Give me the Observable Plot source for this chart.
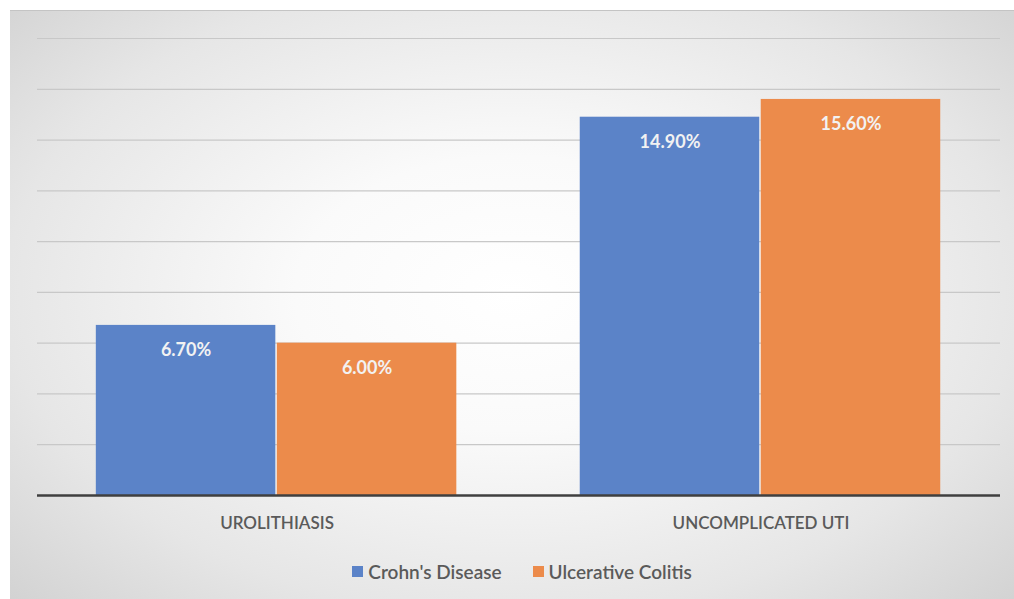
<!DOCTYPE html>
<html>
<head>
<meta charset="utf-8">
<script src="https://cdn.jsdelivr.net/npm/d3@7"></script>
<script src="https://cdn.jsdelivr.net/npm/@observablehq/plot@0.6"></script>
<style>
  html, body { margin: 0; padding: 0; background: #ffffff; }
  #panel {
    position: absolute; left: 10px; top: 10px; width: 1004px; height: 589px;
    background: radial-gradient(ellipse 72% 78% at 50% 48%, #ffffff 0%, #fafafa 30%, #e6e6e6 70%, #d0d0d0 100%);
    border-top: 1px solid #c4c4c4; box-sizing: border-box;
    font-family: Lato, "Open Sans", sans-serif;
  }
  .layer { position: absolute; left: 0; top: -1px; }
  #legend { position: absolute; left: 10px; width: 1004px; top: 549px; display: flex; justify-content: center; gap: 31px; }
  .item { display: flex; align-items: center; font-size: 19px; color: #5a5a5a; font-weight: 600; }
  .sw { width: 11px; height: 11px; margin-right: 5px; display: inline-block; }
</style>
</head>
<body>
<div id="panel"><div id="grid" class="layer"></div><div id="chart" class="layer"></div><div id="base" class="layer"></div><div id="legend"></div></div>
<script>
const categories = ["Urolithiasis", "Uncomplicated UTI"];
const series = ["Crohn's Disease", "Ulcerative Colitis"];
const crohnsValues = [6.7, 14.9];
const ucValues = [6.0, 15.6];
const gridTicks = [2, 4, 6, 8, 10, 12, 14, 16, 18];
const colors = ["#5b83c8", "#ec8b4b"];

const data = [];
categories.forEach((c, i) => {
  data.push({category: c, series: series[0], value: crohnsValues[i]});
  data.push({category: c, series: series[1], value: ucValues[i]});
});

const frame = {
  width: 1004,
  height: 530,
  marginLeft: 27,
  marginRight: 14,
  marginTop: 28,
  marginBottom: 45,
  style: {background: "transparent", fontFamily: "Lato, 'Open Sans', sans-serif"}
};

// Gridlines (behind bars), spanning the full plot width
const gridPlot = Plot.plot({
  ...frame,
  y: {domain: [0, 18], axis: null},
  marks: [Plot.ruleY(gridTicks, {stroke: "#c8c8c8", strokeWidth: 1.2})]
});
document.getElementById("grid").appendChild(gridPlot);

// Bars, value labels and category axis
const plot = Plot.plot({
  ...frame,
  fx: {domain: categories, paddingInner: 0.25, paddingOuter: 0.12, round: false, label: null},
  x: {domain: series, padding: 0, axis: null},
  y: {domain: [0, 18], axis: null},
  color: {domain: series, range: colors},
  marks: [
    Plot.barY(data, {fx: "category", x: "series", y: "value", fill: "series", insetLeft: 0.75, insetRight: 0.75}),
    Plot.text(data, {fx: "category", x: "series", y: "value", text: d => d.value.toFixed(2) + "%", dy: 25, fill: "#f2f2f2", fontWeight: "bold", fontSize: 18}),
    Plot.axisFx({anchor: "bottom", tickSize: 0, tickPadding: 21, fontSize: 17, fill: "#5a5a5a", fontWeight: 600, label: null, tickFormat: d => d.toUpperCase()})
  ]
});
document.getElementById("chart").appendChild(plot);

// Baseline on top
const basePlot = Plot.plot({
  ...frame,
  y: {domain: [0, 18], axis: null},
  marks: [Plot.ruleY([0], {stroke: "#3f3f3f", strokeWidth: 2.5})]
});
document.getElementById("base").appendChild(basePlot);

const legend = document.getElementById("legend");
series.forEach((s, i) => {
  const item = document.createElement("div");
  item.className = "item";
  const sw = document.createElement("span");
  sw.className = "sw";
  sw.style.background = colors[i];
  item.appendChild(sw);
  item.appendChild(document.createTextNode(s));
  legend.appendChild(item);
});
</script>
</body>
</html>
